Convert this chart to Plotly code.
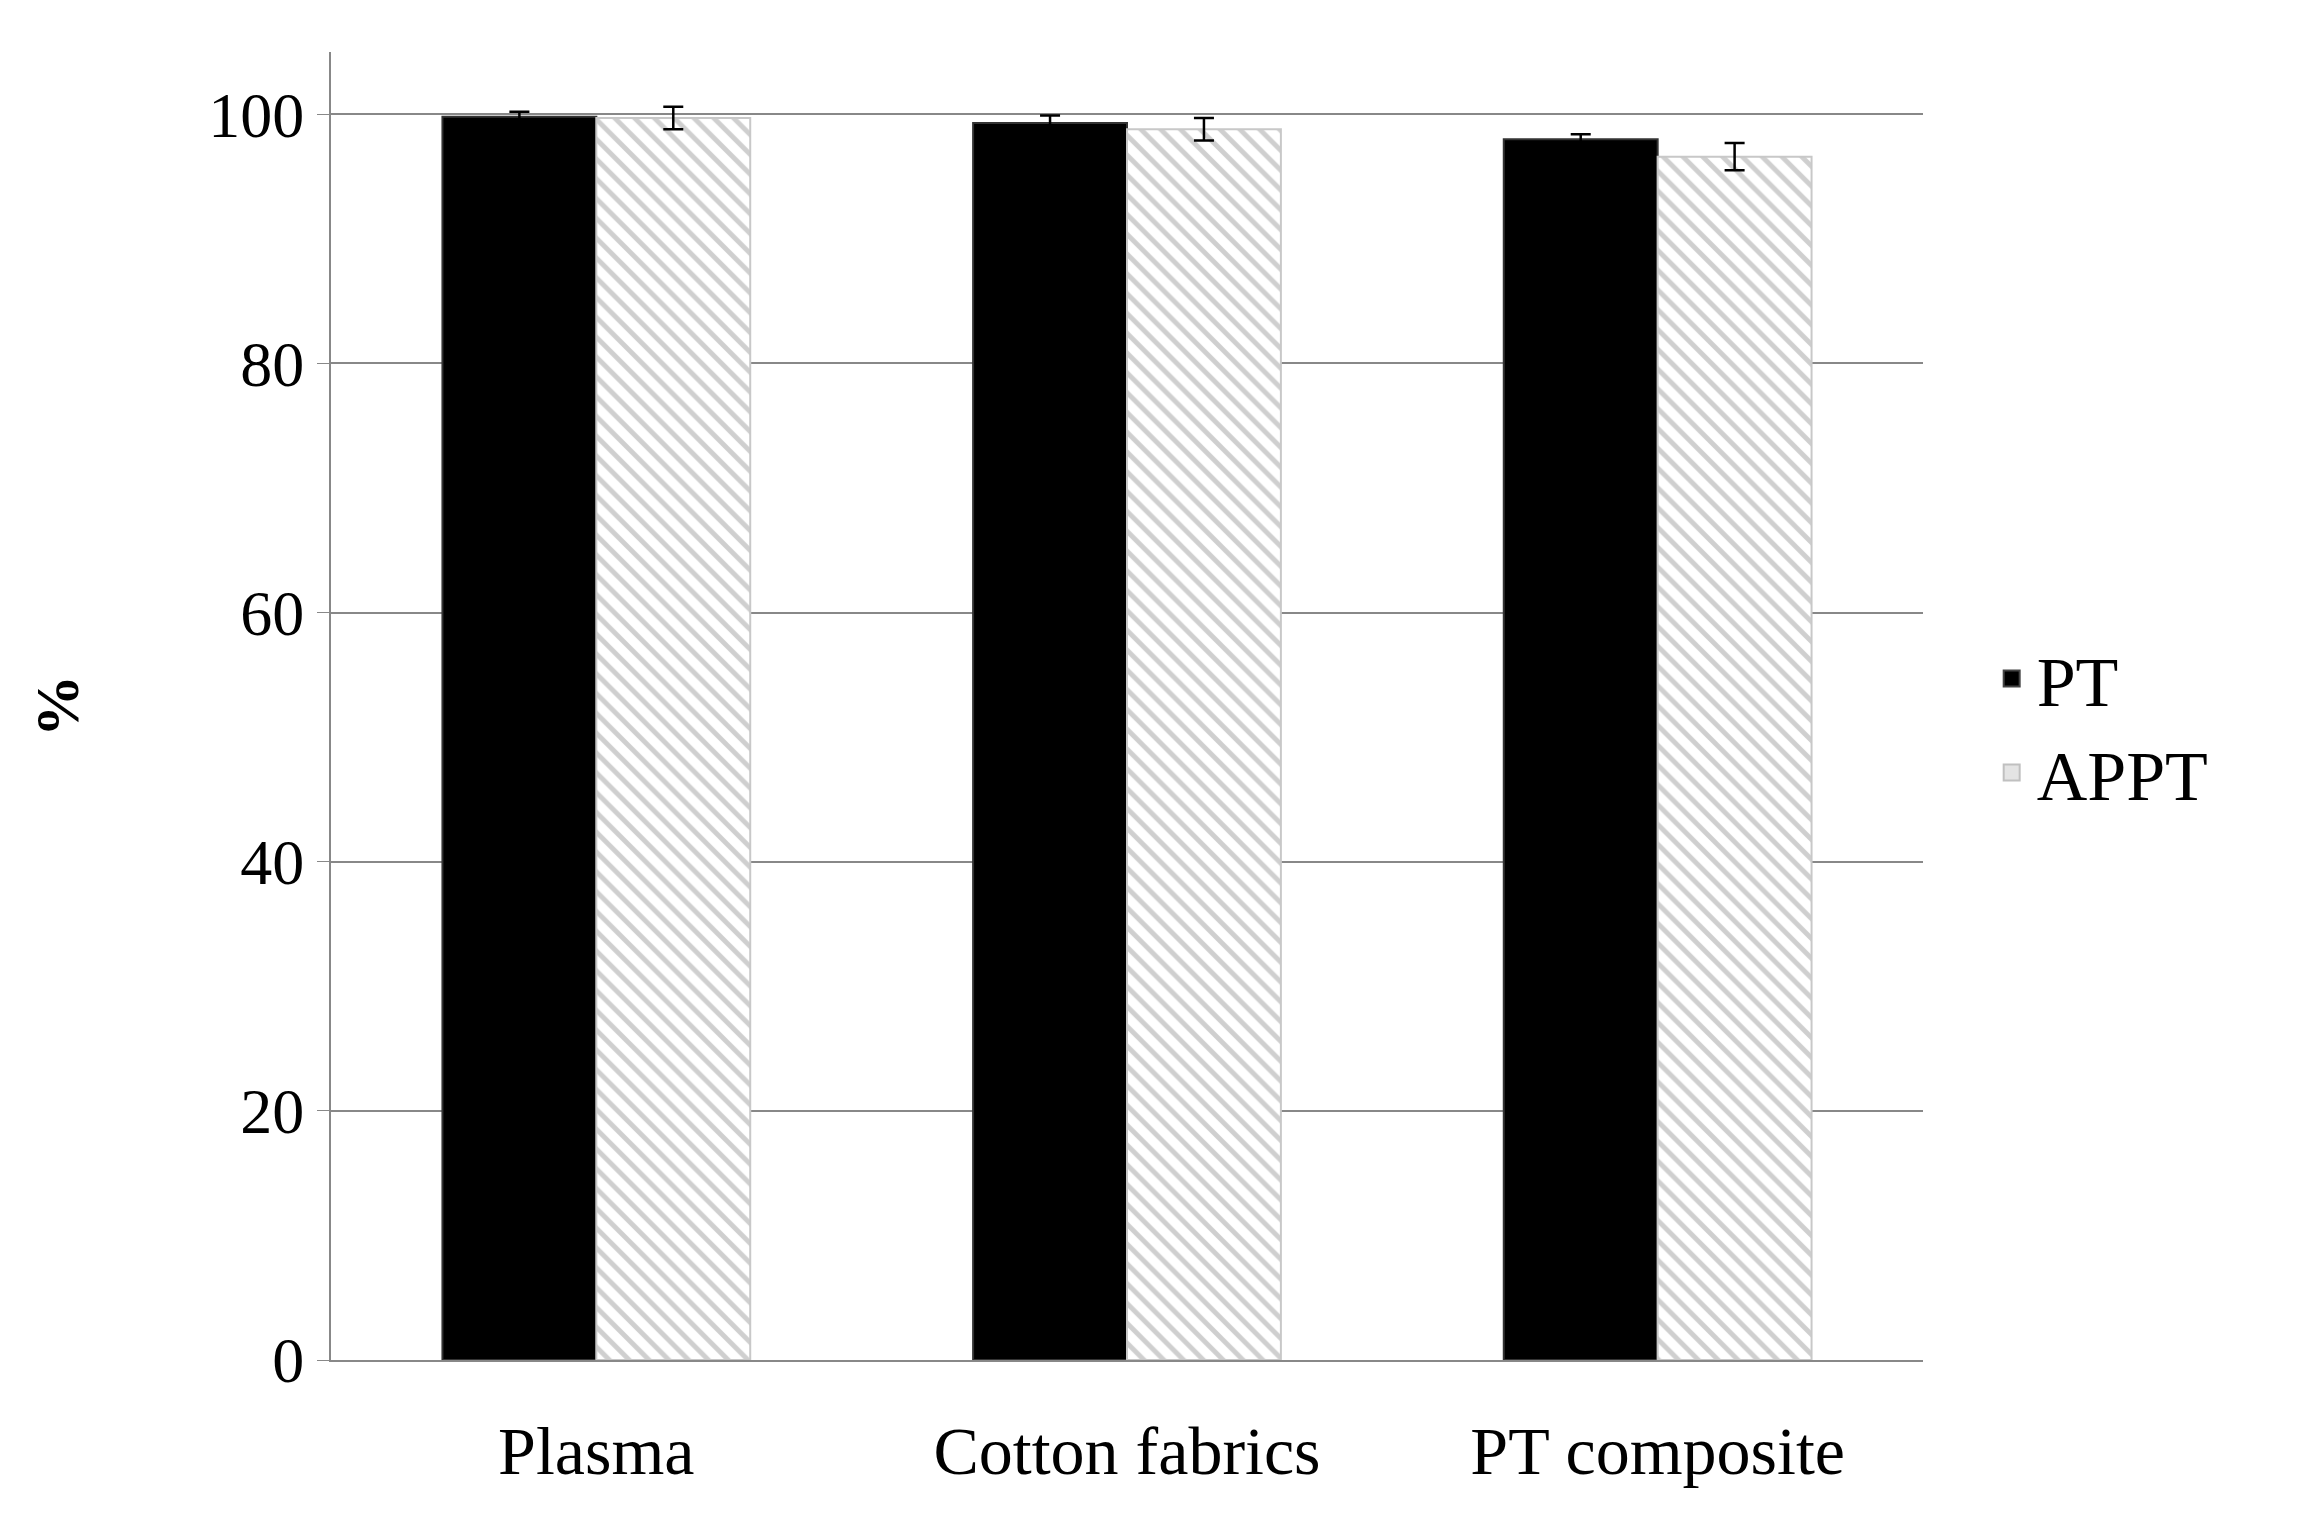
import plotly.graph_objects as go

categories = ["Plasma", "Cotton fabrics", "PT composite"]
pt = [99.8, 99.3, 98.0]
pt_err = [0.4, 0.6, 0.4]
appt = [99.7, 98.8, 96.6]
appt_err = [0.9, 0.9, 1.1]

font = "Liberation Serif"
fig = go.Figure()
fig.add_bar(name="PT", x=categories, y=pt, showlegend=False,
            marker=dict(color="black", line=dict(color="#333", width=2)),
            error_y=dict(type="data", array=pt_err, color="black", thickness=2.5, width=10))
fig.add_bar(name="APPT", x=categories, y=appt, showlegend=False,
            marker=dict(color="white", line=dict(color="#c8c8c8", width=2),
                        pattern=dict(shape="\\", fgcolor="#a0a0a0", bgcolor="white", size=14, solidity=0.35)),
            error_y=dict(type="data", array=appt_err, color="black", thickness=2.5, width=10))
# legend entries with larger square swatches
fig.add_scatter(name="PT", x=[None], y=[None], mode="markers",
                marker=dict(symbol="square", size=40, color="black", line=dict(color="#444", width=2)))
fig.add_scatter(name="APPT", x=[None], y=[None], mode="markers",
                marker=dict(symbol="square", size=40, color="#e4e4e4", line=dict(color="#c0c0c0", width=2)))

fig.update_layout(
    width=2324, height=1516, paper_bgcolor="white", plot_bgcolor="white",
    margin=dict(l=323, r=409, t=44, b=164),
    barmode="group", bargap=0.42, bargroupgap=0,
    font=dict(family=font, size=64, color="black"),
    legend=dict(x=1.04, y=0.485, xanchor="left", yanchor="middle",
                font=dict(size=70), itemwidth=40, tracegroupgap=40),
    xaxis=dict(showline=True, linecolor="#888", linewidth=2, ticks="",
               tickfont=dict(size=68), ticklabelstandoff=30),
    yaxis=dict(range=[0, 105], tickvals=[0, 20, 40, 60, 80, 100],
               showgrid=True, gridcolor="#888", gridwidth=2,
               showline=True, linecolor="#888", linewidth=2,
               ticks="outside", ticklen=12, tickcolor="#888",
               title=dict(text="<b>%</b>", font=dict(size=62), standoff=110),
               zeroline=False),
)
fig.write_html("out.html")
